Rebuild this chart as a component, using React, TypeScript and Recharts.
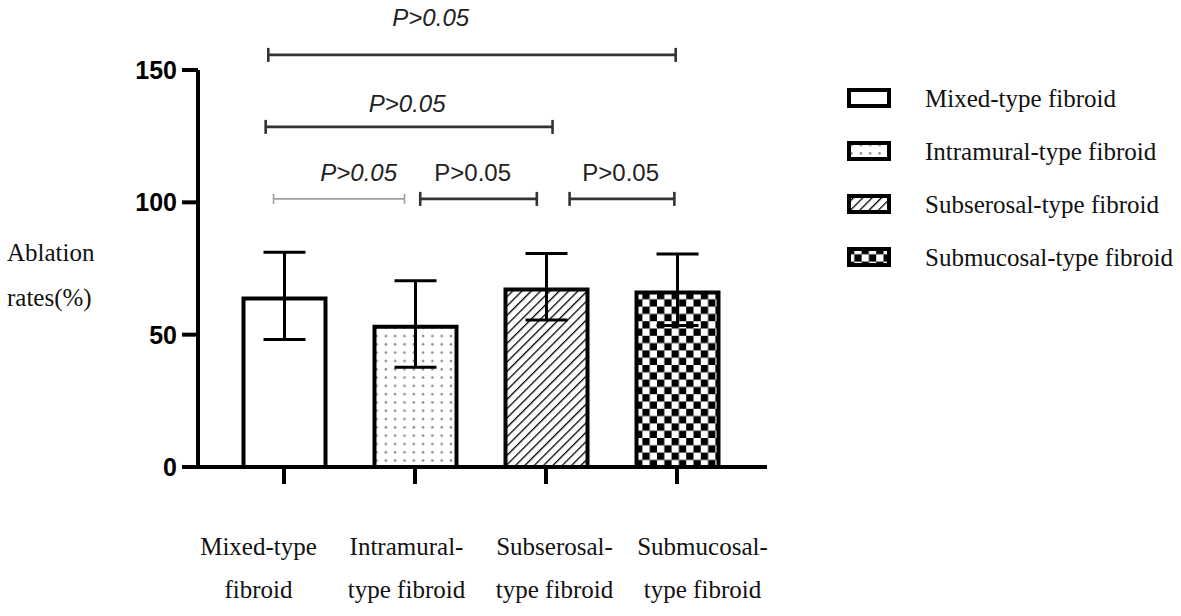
import { BarChart, Bar, XAxis, YAxis, ErrorBar, ReferenceLine, ReferenceDot, Cell } from 'recharts'

const categories = ['Mixed-type fibroid', 'Intramural-type fibroid', 'Subserosal-type fibroid', 'Submucosal-type fibroid']
const tickLines = [
  ['Mixed-type', 'fibroid'],
  ['Intramural-', 'type fibroid'],
  ['Subserosal-', 'type fibroid'],
  ['Submucosal-', 'type fibroid'],
]
const rates = [63.7, 53.0, 67.1, 65.9]
const errLow = [15.5, 15.3, 11.6, 12.4]
const errHigh = [17.4, 17.4, 13.6, 14.6]
const patternKeys = ['none', 'dots', 'hatch', 'checker']
const yTicks = [0, 50, 100, 150]

// significance brackets: ends and label position in category-index units
const brackets = [
  { from: -0.12, to: 2.99, y: 155.7, labelAt: 1.12, labelY: 170.0, text: 'P>0.05', italic: true, faint: false },
  { from: -0.14, to: 2.05, y: 128.5, labelAt: 0.94, labelY: 137.5, text: 'P>0.05', italic: true, faint: false },
  { from: -0.08, to: 0.92, y: 101.3, labelAt: 0.57, labelY: 111.1, text: 'P>0.05', italic: true, faint: true },
  { from: 1.04, to: 1.93, y: 101.3, labelAt: 1.44, labelY: 111.1, text: 'P>0.05', italic: false, faint: false },
  { from: 2.18, to: 2.98, y: 101.3, labelAt: 2.57, labelY: 111.1, text: 'P>0.05', italic: false, faint: false },
]

const data = categories.map((name, i) => ({
  name,
  rate: rates[i],
  err: [errLow[i], errHigh[i]],
}))

const SERIF = '"Liberation Serif", "Times New Roman", serif'
const SANS = '"Liberation Sans", Arial, sans-serif'

function Patterns({ suffix }: { suffix: string }) {
  return (
    <defs>
      <pattern id={`dots${suffix}`} width={9.3} height={8.3} patternUnits="userSpaceOnUse">
        <rect width={9.3} height={8.3} fill="#fff" />
        <circle cx={4.6} cy={4.1} r={1.3} fill="#8a8a8a" />
      </pattern>
      <pattern id={`hatch${suffix}`} width={6.6} height={6.6} patternUnits="userSpaceOnUse" patternTransform="rotate(45)">
        <rect width={6.6} height={6.6} fill="#fff" />
        <line x1={0} y1={0} x2={0} y2={6.6} stroke="#000" strokeWidth={2.6} />
      </pattern>
      <pattern id={`checker${suffix}`} width={14.6} height={14.6} patternUnits="userSpaceOnUse">
        <rect width={14.6} height={14.6} fill="#fff" />
        <rect x={0} y={0} width={7.3} height={7.3} fill="#000" />
        <rect x={7.3} y={7.3} width={7.3} height={7.3} fill="#000" />
      </pattern>
    </defs>
  )
}

function fillFor(key: string, suffix: string) {
  return key === 'none' ? '#fff' : `url(#${key}${suffix})`
}

function CatTick(props: { x?: number; y?: number; index?: number }) {
  const { x = 0, y = 0, index = 0 } = props
  const lines = tickLines[index]
  const cx = x + (index - 1.5) * 17
  return (
    <text x={cx} y={y} textAnchor="middle" fontFamily={SERIF} fontSize={25} fill="#111">
      <tspan x={cx} dy={71}>{lines[0]}</tspan>
      <tspan x={cx} dy={43}>{lines[1]}</tspan>
    </text>
  )
}

function YLabel(props: { viewBox?: { x: number; y: number; width: number; height: number } }) {
  const vb = props.viewBox ?? { x: 0, y: 0, width: 0, height: 0 }
  const cy = vb.y + vb.height / 2
  return (
    <text x={vb.x + 7} y={cy} fontFamily={SERIF} fontSize={25} fill="#111">
      <tspan x={vb.x + 7} dy={-8}>Ablation</tspan>
      <tspan x={vb.x + 7} dy={45}>rates(%)</tspan>
    </text>
  )
}

export default function App() {
  return (
    <div style={{ position: 'absolute', left: 0, top: 0, width: 1181, height: 616, background: '#fff' }}>
      <BarChart width={1181} height={616} data={data} margin={{ top: 70, right: 414, bottom: 0, left: 0 }}>
        <Patterns suffix="" />
        <XAxis
          xAxisId="cat"
          dataKey="name"
          height={149}
          padding={{ left: 20.5, right: 24.5 }}
          axisLine={{ stroke: '#000', strokeWidth: 4 }}
          tickLine={{ stroke: '#000', strokeWidth: 4 }}
          tickSize={17}
          tickMargin={0}
          interval={0}
          tick={<CatTick />}
        />
        <XAxis
          xAxisId="num"
          type="number"
          domain={[0, 3]}
          allowDataOverflow
          padding={{ left: 86, right: 90 }}
          hide
        />
        <YAxis
          width={198}
          domain={[0, 150]}
          ticks={yTicks}
          interval={0}
          axisLine={{ stroke: '#000', strokeWidth: 4 }}
          tickLine={{ stroke: '#000', strokeWidth: 4 }}
          tickSize={16}
          tickMargin={5}
          tick={{ fill: '#000', fontSize: 25, fontWeight: 'bold', fontFamily: SANS }}
          label={<YLabel />}
        />
        <Bar xAxisId="cat" dataKey="rate" barSize={82} stroke="#000" strokeWidth={4} isAnimationActive={false}>
          {data.map((d, i) => (
            <Cell key={d.name} fill={fillFor(patternKeys[i], '')} />
          ))}
          <ErrorBar dataKey="err" direction="y" width={21} stroke="#000" strokeWidth={3} />
        </Bar>
        {brackets.map((b, i) => (
          <ReferenceLine
            key={`br${i}`}
            xAxisId="num"
            ifOverflow="visible"
            segment={[
              { x: b.from, y: b.y },
              { x: b.to, y: b.y },
            ]}
            shape={(p: { x1?: number; y1?: number; x2?: number; y2?: number }) => {
              const col = b.faint ? '#a0a0a0' : '#333'
              const sw = b.faint ? 1.6 : 2.6
              const cap = b.faint ? 5 : 7
              const { x1 = 0, y1 = 0, x2 = 0, y2 = 0 } = p
              return (
                <g>
                  <line x1={x1} y1={y1} x2={x2} y2={y2} stroke={col} strokeWidth={sw} />
                  <line x1={x1} y1={y1 - cap} x2={x1} y2={y1 + cap} stroke={col} strokeWidth={sw} />
                  <line x1={x2} y1={y2 - cap} x2={x2} y2={y2 + cap} stroke={col} strokeWidth={sw} />
                </g>
              )
            }}
          />
        ))}
        {brackets.map((b, i) => (
          <ReferenceDot
            key={`lb${i}`}
            xAxisId="num"
            x={b.labelAt}
            y={b.labelY}
            ifOverflow="visible"
            shape={(p: { cx?: number; cy?: number }) => (
              <text
                x={p.cx}
                y={p.cy}
                textAnchor="middle"
                dominantBaseline="central"
                fontFamily={SANS}
                fontSize={24}
                fontStyle={b.italic ? 'italic' : 'normal'}
                fill="#222"
              >
                {b.text}
              </text>
            )}
          />
        ))}
      </BarChart>
      <div style={{ position: 'absolute', left: 847, top: 72 }}>
        {categories.map((c, i) => (
          <div key={c} style={{ display: 'flex', alignItems: 'center', height: 53 }}>
            <svg width={45} height={21} style={{ display: 'block' }}>
              <Patterns suffix={`L${i}`} />
              <rect x={2} y={2} width={40} height={16} fill={fillFor(patternKeys[i], `L${i}`)} stroke="#000" strokeWidth={4} />
            </svg>
            <span style={{ marginLeft: 33, fontFamily: SERIF, fontSize: 25, color: '#111', whiteSpace: 'nowrap' }}>{c}</span>
          </div>
        ))}
      </div>
    </div>
  )
}
